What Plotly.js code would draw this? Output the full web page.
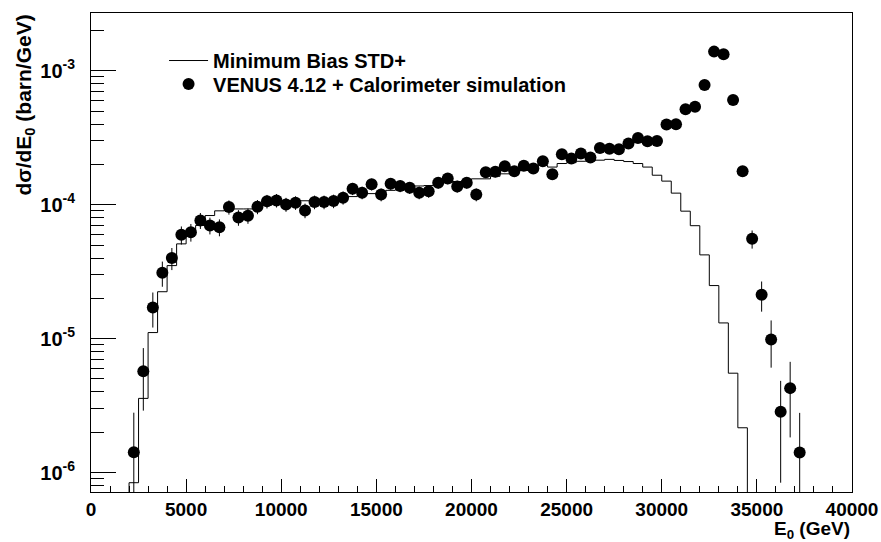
<!DOCTYPE html>
<html><head><meta charset="utf-8">
<script src="https://cdn.plot.ly/plotly-3.0.1.min.js"></script>
<style>html,body{margin:0;padding:0;background:#fff}#chart{width:881px;height:542px}</style>
</head><body><div id="chart"></div>
<script>
// VENUS 4.12 + Calorimeter simulation (points), bin centres in GeV
const pointE = [2250,2750,3250,3750,4250,4750,5250,5750,6250,6750,7250,7750,8250,8750,9250,9750,
  10250,10750,11250,11750,12250,12750,13250,13750,14250,14750,15250,15750,16250,16750,17250,17750,
  18250,18750,19250,19750,20250,20750,21250,21750,22250,22750,23250,23750,24250,24750,25250,25750,
  26250,26750,27250,27750,28250,28750,29250,29750,30250,30750,31250,31750,32250,32750,33250,33750,
  34250,34750,35250,35750,36250,36750,37250];
const pointVal = [1.42e-6,5.7e-6,1.71e-5,3.1e-5,4.0e-5,5.96e-5,6.24e-5,7.63e-5,7.0e-5,6.79e-5,
  9.6e-5,8.03e-5,8.28e-5,9.66e-5,1.06e-4,1.077e-4,1.005e-4,1.035e-4,9.06e-5,1.047e-4,
  1.047e-4,1.065e-4,1.128e-4,1.317e-4,1.23e-4,1.42e-4,1.19e-4,1.436e-4,1.38e-4,1.34e-4,
  1.23e-4,1.26e-4,1.46e-4,1.57e-4,1.37e-4,1.46e-4,1.19e-4,1.75e-4,1.76e-4,1.94e-4,
  1.78e-4,1.95e-4,1.86e-4,2.11e-4,1.69e-4,2.38e-4,2.21e-4,2.41e-4,2.25e-4,2.65e-4,
  2.62e-4,2.59e-4,2.86e-4,3.15e-4,2.98e-4,2.99e-4,3.97e-4,3.99e-4,5.17e-4,5.38e-4,
  7.82e-4,1.39e-3,1.33e-3,6.04e-4,1.78e-4,5.56e-5,2.13e-5,9.87e-6,2.84e-6,4.27e-6,1.41e-6];
const pointErr = [1.38e-6,2.8e-6,5.0e-6,6.6e-6,7.5e-6,9.2e-6,9.4e-6,1.04e-5,1.0e-5,9.8e-6,
  1.17e-5,1.07e-5,1.08e-5,1.17e-5,1.23e-5,1.24e-5,1.2e-5,1.2e-5,1.13e-5,1.22e-5,
  1.22e-5,1.23e-5,1.27e-5,1.37e-5,1.32e-5,1.42e-5,1.3e-5,1.43e-5,1.4e-5,1.38e-5,
  1.32e-5,1.34e-5,1.44e-5,1.49e-5,1.39e-5,1.44e-5,1.3e-5,1.58e-5,1.58e-5,1.66e-5,
  1.59e-5,1.66e-5,1.63e-5,1.73e-5,1.55e-5,1.84e-5,1.77e-5,1.85e-5,1.79e-5,1.94e-5,
  1.93e-5,1.92e-5,2.0e-5,2.1e-5,2.06e-5,2.06e-5,2.4e-5,2.4e-5,2.7e-5,2.8e-5,
  3.3e-5,4.4e-5,4.3e-5,2.9e-5,1.6e-5,8.6e-6,5.4e-6,3.8e-6,2.0e-6,2.44e-6,1.38e-6];

// Minimum Bias STD+ histogram, bin centres in GeV (0 = empty bin)
const histE = [1750,2250,2750,3250,3750,4250,4750,5250,5750,6250,6750,7250,7750,8250,8750,9250,9750,
  10250,10750,11250,11750,12250,12750,13250,13750,14250,14750,15250,15750,16250,16750,17250,17750,
  18250,18750,19250,19750,20250,20750,21250,21750,22250,22750,23250,23750,24250,24750,25250,25750,
  26250,26750,27250,27750,28250,28750,29250,29750,30250,30750,31250,31750,32250,32750,33250,33750,
  34250,34750];
const histVal = [0,8.4e-7,3.58e-6,1.11e-5,2.24e-5,3.51e-5,5.1e-5,6.0e-5,7.0e-5,8.3e-5,9.0e-5,9.1e-5,
  9.3e-5,9.3e-5,9.6e-5,9.9e-5,1.01e-4,1.03e-4,1.07e-4,1.07e-4,1.08e-4,1.09e-4,1.1e-4,1.13e-4,1.15e-4,
  1.2e-4,1.21e-4,1.24e-4,1.28e-4,1.3e-4,1.33e-4,1.38e-4,1.39e-4,1.42e-4,1.46e-4,1.49e-4,1.52e-4,
  1.56e-4,1.56e-4,1.63e-4,1.7e-4,1.75e-4,1.8e-4,1.85e-4,1.97e-4,1.91e-4,2.03e-4,2.06e-4,2.11e-4,
  2.12e-4,2.15e-4,2.18e-4,2.14e-4,2.1e-4,2.03e-4,1.91e-4,1.66e-4,1.5e-4,1.22e-4,8.95e-5,6.97e-5,
  4.22e-5,2.49e-5,1.31e-5,5.52e-6,2.16e-6,0];

const yTickVals = [1e-6,1e-5,1e-4,1e-3];
const yTickText = ['10<sup>-6</sup>','10<sup>-5</sup>','10<sup>-4</sup>','10<sup>-3</sup>'];

const yMin = 7.16e-7, yMax = 2.7e-3;

// build step outline of histogram (empty bins drawn at frame bottom, as ROOT does)
const half = (histE[1]-histE[0])/2;
const stepX = [], stepY = [];
histE.forEach((c,i)=>{ stepX.push(c-half); stepY.push(histVal[i] > 0 ? histVal[i] : yMin/10); });
stepX.push(histE[histE.length-1]+half); stepY.push(stepY[stepY.length-1]);

// minor ticks 2..9 per decade
const minorVals = [];
for (let e=-7; e<=-3; e++) for (let k=2;k<=9;k++) minorVals.push(k*Math.pow(10,e));

const F = 'Liberation Sans, Arial, sans-serif';

const traces = [
  {x: stepX, y: stepY, type:'scatter', mode:'lines', line:{shape:'hv', color:'#000', width:1},
   name:'Minimum Bias STD+', legend:'legend', hoverinfo:'skip'},
  {x: pointE, y: pointVal, type:'scatter', mode:'markers',
   marker:{symbol:'circle', size:12, color:'#000'},
   error_y:{type:'data', array:pointErr, visible:true, color:'#000', thickness:1, width:0},
   name:'VENUS 4.12 + Calorimeter simulation', legend:'legend2'}
];

const layout = {
  width:881, height:542,
  margin:{l:91, r:29, t:13, b:50},
  paper_bgcolor:'#fff', plot_bgcolor:'#fff',
  font:{family:F, size:19, color:'#000', weight:'bold'},
  showlegend:true,
  xaxis:{type:'linear', range:[0,40000], tickmode:'linear', tick0:0, dtick:5000, tickformat:'d',
    ticks:'inside', ticklen:13, tickwidth:1, tickcolor:'#000',
    minor:{ticks:'inside', ticklen:6, dtick:1000, tickcolor:'#000', tickwidth:1, showgrid:false},
    showgrid:false, zeroline:false, showline:true, mirror:true, linecolor:'#000', linewidth:1,
    tickfont:{family:F, size:19, color:'#000', weight:'bold'}},
  yaxis:{type:'log', range:[Math.log10(yMin), Math.log10(yMax)], tickmode:'array',
    tickvals:yTickVals, ticktext:yTickText, ticklabelstandoff:11,
    ticks:'inside', ticklen:25, tickwidth:1, tickcolor:'#000',
    minor:{ticks:'inside', ticklen:13, tickmode:'array', tickvals:minorVals, tickcolor:'#000', tickwidth:1, showgrid:false},
    showgrid:false, zeroline:false, showline:true, mirror:true, linecolor:'#000', linewidth:1,
    tickfont:{family:F, size:20, color:'#000', weight:'bold'}},
  legend:{x:0.096, y:0.9008, xanchor:'left', yanchor:'middle', bgcolor:'rgba(0,0,0,0)',
    borderwidth:0, itemwidth:39, font:{family:F, size:20, color:'#000', weight:'bold'}},
  legend2:{x:0.096, y:0.8517, xanchor:'left', yanchor:'middle', bgcolor:'rgba(0,0,0,0)',
    borderwidth:0, itemwidth:39, font:{family:F, size:20, color:'#000', weight:'bold'}},
  annotations:[
    {text:'d\u03c3/dE<sub>0</sub> (barn/GeV)', textangle:-90, xref:'paper', yref:'paper',
     x:-0.088, xanchor:'center', y:1, yanchor:'top', showarrow:false,
     font:{family:F, size:21, color:'#000', weight:'bold'}},
    {text:'E<sub>0</sub> (GeV)', xref:'paper', yref:'paper', x:1, xanchor:'right',
     y:-0.079, yanchor:'middle', showarrow:false,
     font:{family:F, size:19, color:'#000', weight:'bold'}}
  ]
};

Plotly.newPlot('chart', traces, layout, {staticPlot:true, displayModeBar:false});
</script></body></html>
